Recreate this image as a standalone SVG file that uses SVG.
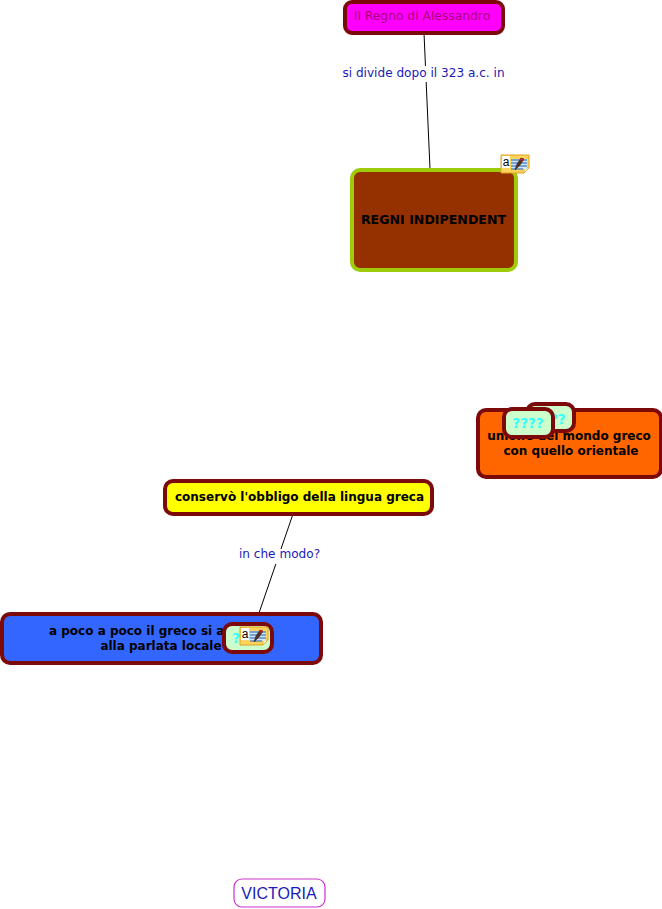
<svg xmlns="http://www.w3.org/2000/svg" width="662" height="909" viewBox="0 0 662 909">
<style>
text{font-family:"DejaVu Sans",Verdana,sans-serif;font-size:12px;text-anchor:middle}
.b{font-weight:bold;fill:#000}
.l{fill:#1a1ab8;font-size:12.100px}
.n{stroke:#7d0a0a;stroke-width:4}
.q{fill:#ccffcc;stroke:#7d0a0a;stroke-width:4}
.t{fill:#33ffff;font-weight:bold;font-size:13.500px}
.c{stroke:#000;stroke-width:1;fill:none}
</style>
<defs>
<g id="note">
<path d="M1 1H29V14L24 19H1Z" fill="#ffd35c" stroke="#e0a020"/>
<path d="M24 19V14H29Z" fill="#fff3c0" stroke="#e0a020" stroke-width=".7"/>
<rect x="2" y="2" width="8" height="12" fill="#fff"/>
<text x="6" y="12" style="font-size:12px;font-family:'Liberation Sans',sans-serif;fill:#000">a</text>
<rect x="11" y="5" width="16" height="10" fill="#cfe6f7"/>
<path d="M11 6H27M11 9H27M11 12H27M11 15H23" stroke="#1f5fa8" stroke-width="1"/>
<path d="M15 16L17 10L21 4L24 5L20 11Z" fill="#5a3020" stroke="#222" stroke-width=".6"/>
<path d="M21 4L24 5L23 7L20 6Z" fill="#c02020"/>
</g>
</defs>
<g id="connectors">
<path class="c" d="M424 33L430 169"/>
<path class="c" d="M293 514L259 613"/>
<rect x="342" y="66" width="163" height="16" fill="#fff"/>
<rect x="239" y="549" width="81" height="15" fill="#fff"/>
<text class="l" x="423.500" y="77">si divide dopo il 323 a.c. in</text>
<text class="l" x="279.500" y="558">in che modo?</text>
</g>
<g id="n1">
<rect class="n" x="345" y="2" width="158" height="31" rx="7" fill="#ff00ff"/>
<text x="422" y="20" fill="#a8007a" style="font-size:12.300px">Il Regno di Alessandro</text>
</g>
<g id="n2">
<rect x="352" y="170" width="164" height="100" rx="8" fill="#953000" stroke="#9ecb0a" stroke-width="4"/>
<text class="b" x="433.500" y="224" style="font-size:12.600px">REGNI INDIPENDENT</text>
<use href="#note" x="500" y="154"/>
</g>
<g id="n3">
<rect class="n" x="478" y="410" width="183" height="67" rx="8" fill="#ff6600"/>
<text class="b" x="569" y="440">unione del mondo greco</text>
<text class="b" x="571" y="455">con quello orientale</text>
</g>
<g id="n4">
<rect class="q" x="527" y="404" width="47" height="27" rx="8"/>
<text class="t" x="550" y="424">????</text>
</g>
<g id="n5">
<rect class="q" x="504" y="409" width="49" height="28" rx="8"/>
<text class="t" x="528" y="428">????</text>
</g>
<g id="n6">
<rect class="n" x="165" y="481" width="267" height="33" rx="8" fill="#ffff00"/>
<text class="b" x="299.500" y="501">conservò l'obbligo della lingua greca</text>
</g>
<g id="n7">
<rect class="n" x="2" y="614" width="319" height="49" rx="8" fill="#3366ff"/>
<text class="b" x="49" y="635" style="text-anchor:start">a poco a poco il greco si adatta</text>
<text class="b" x="161" y="650">alla parlata locale</text>
</g>
<g id="n8">
<rect class="q" x="224" y="624" width="48" height="28" rx="8"/>
<text class="t" x="248" y="643">????</text>
<use href="#note" x="239" y="626"/>
</g>
<g id="n9">
<rect x="234" y="879" width="91" height="28" rx="8" fill="#fff" stroke="#cc33cc" stroke-width="1.200"/>
<text x="279" y="899" style="font-family:'Liberation Sans',Arial,sans-serif;font-size:16px;fill:#1a1ab8">VICTORIA</text>
</g>
</svg>
